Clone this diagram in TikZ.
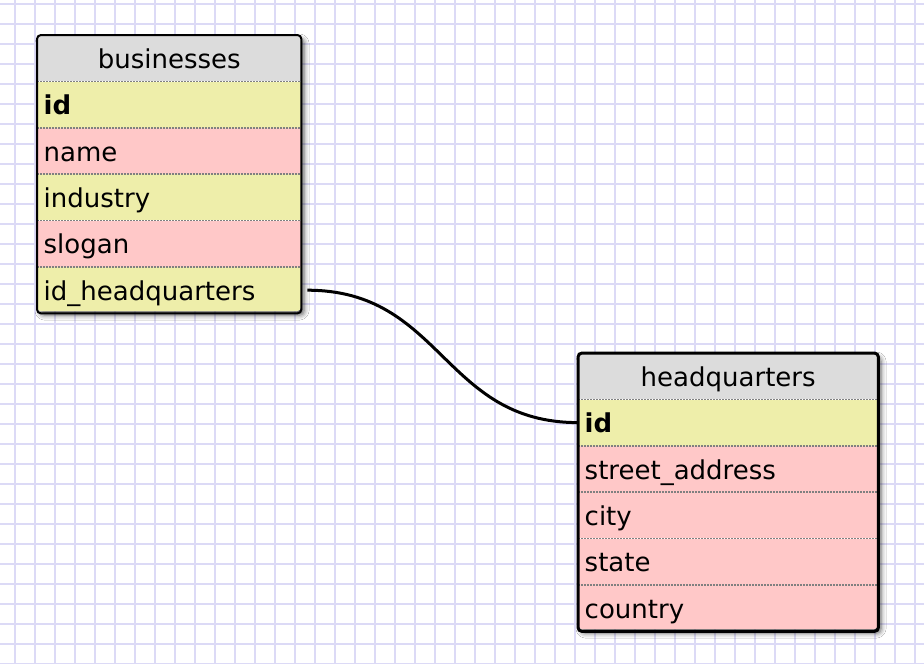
\documentclass[tikz,border=0pt]{standalone}
\usepackage{fontspec}
\setmainfont{DejaVu Sans}
\usetikzlibrary{positioning,shadows.blur}
\definecolor{gridc}{RGB}{220,218,246}
\definecolor{headc}{RGB}{220,220,220}
\definecolor{keyc}{RGB}{238,238,170}
\definecolor{rowc}{RGB}{255,200,200}
\tikzset{
  field/.style={inner xsep=6.5pt,inner ysep=0pt,minimum height=46pt,text height=24pt,text depth=4pt,
    font=\fontsize{26}{30}\selectfont,align=left},
  head/.style={field,fill=headc,align=center,anchor=north west},
  keyrow/.style={field,fill=keyc},
  plainrow/.style={field,fill=rowc},
  sep/.style={draw=gray,line width=1.5pt,dash pattern=on 1.5pt off 1.5pt},
  tblshadow/.style={fill=white,rounded corners=4pt,
    blur shadow={shadow xshift=3pt,shadow yshift=-4pt,shadow blur radius=5pt,shadow opacity=65}},
  tblborder/.style={draw=black,rounded corners=4pt},
  link/.style={line width=3pt,black},
}
\begin{document}
\begin{tikzpicture}[x=1pt,y=-1pt]
  \useasboundingbox (0,0) rectangle (924,664);
  \fill[white] (0,0) rectangle (924,664);
  % grid
  \foreach \x in {15,35,...,915} \draw[gridc,line width=2pt] (\x,0) -- (\x,664);
  \foreach \y in {4,24,...,664} \draw[gridc,line width=2pt] (0,\y) -- (924,\y);

  % businesses
  \path[tblshadow] (37,35) rectangle (301,311);
  \begin{scope}[every node/.append style={text width=251pt}]
    \clip[rounded corners=4pt] (37,35) rectangle (301,311);
    \node[head] (bhead) at (37,35) {businesses};
    \node[keyrow,below=0pt of bhead] (bid) {\textbf{id}};
    \node[plainrow,below=0pt of bid] (bname) {name};
    \node[keyrow,below=0pt of bname] (bind) {industry};
    \node[plainrow,below=0pt of bind] (bslogan) {slogan};
    \node[keyrow,below=0pt of bslogan] (bidhq) {id\_headquarters};
  \end{scope}
  \foreach \n in {bid,bname,bind,bslogan,bidhq} \draw[sep] (\n.north west) -- (\n.north east);
  \draw[tblborder,line width=2pt] (bhead.north west) rectangle (bidhq.south east);

  % headquarters
  \path[tblshadow] (578,353) rectangle (878,629);
  \begin{scope}[every node/.append style={text width=287pt}]
    \clip[rounded corners=4pt] (578,353) rectangle (878,629);
    \node[head] (hhead) at (578,353) {headquarters};
    \node[keyrow,below=0pt of hhead] (hid) {\textbf{id}};
    \node[plainrow,below=0pt of hid] (hstreet) {street\_address};
    \node[plainrow,below=0pt of hstreet] (hcity) {city};
    \node[plainrow,below=0pt of hcity] (hstate) {state};
    \node[plainrow,below=0pt of hstate] (hcountry) {country};
  \end{scope}
  \foreach \n in {hid,hstreet,hcity,hstate,hcountry} \draw[sep] (\n.north west) -- (\n.north east);
  \draw[tblborder,line width=3pt] (hhead.north west) rectangle (hcountry.south east);

  % link
  \draw[link] ([xshift=6pt]bidhq.east) .. controls +(135,0) and +(-135,0) .. (hid.west);
\end{tikzpicture}
\end{document}
